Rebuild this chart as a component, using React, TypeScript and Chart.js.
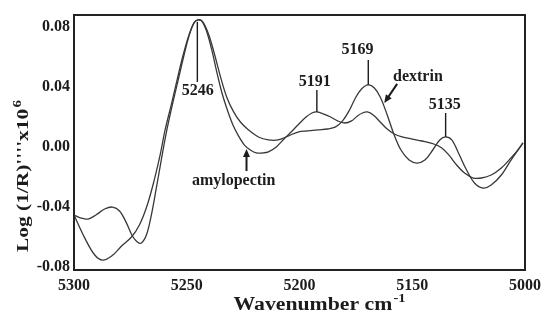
import React, { useEffect, useRef } from "react";
import { Chart, registerables } from "chart.js";

Chart.register(...registerables);

// ---- data ----
const amylopectinWavenumbers = [
  5300, 5296.9, 5293.8, 5290.3, 5286.4, 5282.9, 5279.8, 5276.7, 5274.1, 5271.9,
  5270.1, 5267.9, 5265.7, 5263.5, 5261.3, 5259.1, 5256.5, 5253.8, 5251.2, 5249.0,
  5246.8, 5245.1, 5243.3, 5241.1, 5238.9, 5236.7, 5234.5, 5232.3, 5229.7, 5227.0,
  5224.4, 5221.8, 5219.1, 5216.5, 5213.8, 5210.3, 5207.3, 5204.2, 5200.7, 5197.1,
  5194.5, 5192.3, 5189.2, 5186.2, 5183.1, 5180.0, 5176.9, 5174.3, 5172.1, 5169.9,
  5167.3, 5164.2, 5161.1, 5158.0, 5154.5, 5150.1, 5145.7, 5140.4, 5136.9, 5133.8,
  5130.3, 5126.8, 5122.9, 5119.3, 5115.0, 5110.5, 5106.2, 5103.1, 5100.9,
];
const amylopectinValues = [
  -0.0454, -0.0474, -0.0481, -0.0454, -0.0414, -0.0401, -0.0427, -0.0508, -0.0594, -0.0634,
  -0.0641, -0.0588, -0.0454, -0.0274, -0.0087, 0.0093, 0.0274, 0.0447, 0.0614, 0.0741,
  0.0828, 0.0848, 0.0841, 0.0768, 0.0648, 0.0501, 0.0367, 0.026, 0.0154, 0.0073,
  0.0013, -0.002, -0.004, -0.004, -0.0033, 0.0, 0.0047, 0.0093, 0.0147, 0.02,
  0.0227, 0.0234, 0.022, 0.02, 0.0174, 0.016, 0.0174, 0.0207, 0.0227, 0.0234,
  0.0214, 0.0167, 0.012, 0.0087, 0.0067, 0.0053, 0.004, 0.002, -0.0007, -0.0053,
  -0.012, -0.0174, -0.0207, -0.0207, -0.0187, -0.014, -0.0073, -0.002, 0.0027,
];

const dextrinWavenumbers = [
  5300, 5295.2, 5290.8, 5287.3, 5283.3, 5278.9, 5274.5, 5271.0, 5267.5, 5264.4,
  5261.8, 5259.6, 5256.9, 5254.3, 5251.6, 5249.0, 5246.8, 5245.1, 5242.9, 5240.2,
  5237.6, 5234.9, 5232.3, 5229.2, 5226.2, 5222.6, 5218.2, 5213.8, 5209.5, 5205.1,
  5200.7, 5196.3, 5191.9, 5187.5, 5184.0, 5180.9, 5177.8, 5175.2, 5172.5, 5169.5,
  5166.8, 5164.2, 5161.1, 5158.0, 5155.0, 5151.4, 5147.9, 5144.4, 5140.9, 5137.8,
  5135.2, 5132.5, 5129.5, 5125.9, 5122.4, 5118.5, 5115.0, 5110.5, 5106.2, 5103.1,
  5100.9,
];
const dextrinValues = [
  -0.0454, -0.0608, -0.0721, -0.0755, -0.0728, -0.0661, -0.0601, -0.0521, -0.0387, -0.022,
  -0.0053, 0.0114, 0.028, 0.0447, 0.0614, 0.0748, 0.0828, 0.0848, 0.0835, 0.0748,
  0.0614, 0.0461, 0.0334, 0.0234, 0.0167, 0.0114, 0.0067, 0.0047, 0.0047, 0.0073,
  0.01, 0.0107, 0.0114, 0.012, 0.0134, 0.0174, 0.0247, 0.0327, 0.0387, 0.0414,
  0.0394, 0.0334, 0.0214, 0.008, -0.002, -0.0087, -0.0107, -0.0087, -0.002, 0.0047,
  0.0067, 0.0047, -0.004, -0.0154, -0.024, -0.0274, -0.0254, -0.0187, -0.0087, -0.002,
  0.0027,
];

const xTickValues = [5300, 5250, 5200, 5150, 5100];
const xTickLabels = ["5300", "5250", "5200", "5150", "5000"];
const yTickValues = [-0.08, -0.04, 0, 0.04, 0.08];
const yTickLabels = ["-0.08", "-0.04", "0.00", "0.04", "0.08"];

const xTitle = "Wavenumber cm";
const xTitleSup = "-1";
const yTitle = "Log (1/R)''''x10";
const yTitleSup = "6";

// peak annotations: label, stem wavenumber, curve value at stem, stem end value, label anchor
const peakLabels = ["5246", "5191", "5169", "5135"];
const peakWavenumbers = [5245.3, 5192.3, 5169.5, 5135.2];
const peakStemStart = [0.0835, 0.0234, 0.0414, 0.0067];
const peakStemEnd = [0.0434, 0.0381, 0.0581, 0.0227];
const peakLabelWavenumbers = [5245.1, 5193.2, 5174.3, 5135.6];
const peakLabelValues = [0.0374, 0.0434, 0.0648, 0.028];

// arrow annotations
const arrowLabels = ["dextrin", "amylopectin"];
const arrowLabelWavenumbers = [5147.5, 5229.2];
const arrowLabelValues = [0.0467, -0.0227];
const arrowFrom = [
  [5156.7, 0.0421],
  [5223.5, -0.016],
];
const arrowTo = [
  [5162.4, 0.0294],
  [5223.5, -0.0013],
];

const FONT = "'Liberation Serif', 'Times New Roman', serif";
const INK = "#1c1c1c";

function toPoints(xs: number[], ys: number[]) {
  return xs.map((x, i) => ({ x, y: ys[i] }));
}

function drawSupText(
  ctx: CanvasRenderingContext2D,
  main: string,
  sup: string,
  size: number,
  target: number
) {
  ctx.font = `bold ${size}px ${FONT}`;
  const w1 = ctx.measureText(main).width;
  ctx.font = `bold ${Math.round(size * 0.68)}px ${FONT}`;
  const w2 = ctx.measureText(sup).width;
  const gap = 1;
  const total = w1 + gap + w2;
  const s = target / total;
  ctx.scale(s, 1);
  ctx.textAlign = "left";
  ctx.textBaseline = "alphabetic";
  ctx.font = `bold ${size}px ${FONT}`;
  ctx.fillText(main, -total / 2, 0);
  ctx.font = `bold ${Math.round(size * 0.68)}px ${FONT}`;
  ctx.fillText(sup, -total / 2 + w1 + gap, -size * 0.42);
}

const overlayPlugin = {
  id: "overlay",
  afterDraw(chart: any) {
    const { ctx, chartArea: a } = chart;
    const xs = chart.scales.x;
    const ys = chart.scales.y;
    ctx.save();
    // frame
    ctx.strokeStyle = "#222";
    ctx.lineWidth = 2;
    ctx.strokeRect(a.left, a.top, a.right - a.left, a.bottom - a.top);

    ctx.fillStyle = INK;
    ctx.strokeStyle = INK;

    // peak stems and labels
    ctx.lineWidth = 1.4;
    ctx.font = `bold 16px ${FONT}`;
    ctx.textAlign = "center";
    ctx.textBaseline = "middle";
    peakLabels.forEach((lab, i) => {
      const px = xs.getPixelForValue(peakWavenumbers[i]);
      ctx.beginPath();
      ctx.moveTo(px, ys.getPixelForValue(peakStemStart[i]));
      ctx.lineTo(px, ys.getPixelForValue(peakStemEnd[i]));
      ctx.stroke();
      ctx.fillText(
        lab,
        xs.getPixelForValue(peakLabelWavenumbers[i]),
        ys.getPixelForValue(peakLabelValues[i])
      );
    });

    // arrows and labels
    arrowLabels.forEach((lab, i) => {
      ctx.fillText(
        lab,
        xs.getPixelForValue(arrowLabelWavenumbers[i]),
        ys.getPixelForValue(arrowLabelValues[i])
      );
      const x0 = xs.getPixelForValue(arrowFrom[i][0]);
      const y0 = ys.getPixelForValue(arrowFrom[i][1]);
      const x1 = xs.getPixelForValue(arrowTo[i][0]);
      const y1 = ys.getPixelForValue(arrowTo[i][1]);
      const ang = Math.atan2(y1 - y0, x1 - x0);
      const hl = 8;
      const hw = 3.5;
      ctx.lineWidth = 2;
      ctx.beginPath();
      ctx.moveTo(x0, y0);
      ctx.lineTo(x1 - Math.cos(ang) * hl * 0.8, y1 - Math.sin(ang) * hl * 0.8);
      ctx.stroke();
      ctx.beginPath();
      ctx.moveTo(x1, y1);
      ctx.lineTo(
        x1 - Math.cos(ang) * hl + Math.sin(ang) * hw,
        y1 - Math.sin(ang) * hl - Math.cos(ang) * hw
      );
      ctx.lineTo(
        x1 - Math.cos(ang) * hl - Math.sin(ang) * hw,
        y1 - Math.sin(ang) * hl + Math.cos(ang) * hw
      );
      ctx.closePath();
      ctx.fill();
    });

    // axis titles
    ctx.save();
    ctx.translate((a.left + a.right) / 2 + 20, 310);
    drawSupText(ctx, xTitle, xTitleSup, 18, 172);
    ctx.restore();

    ctx.save();
    ctx.translate(28, 176);
    ctx.rotate(-Math.PI / 2);
    drawSupText(ctx, yTitle, yTitleSup, 17, 152);
    ctx.restore();

    ctx.restore();
  },
};

export default function App() {
  const canvasRef = useRef<HTMLCanvasElement | null>(null);

  useEffect(() => {
    const canvas = canvasRef.current;
    if (!canvas) return;
    const tickFont = { family: FONT, size: 16, weight: "bold" as const };
    const chart = new Chart(canvas, {
      type: "line",
      data: {
        datasets: [
          {
            label: "dextrin",
            data: toPoints(dextrinWavenumbers, dextrinValues),
            borderColor: "#383838",
            borderWidth: 1.3,
            pointRadius: 0,
            tension: 0.35,
            fill: false,
          },
          {
            label: "amylopectin",
            data: toPoints(amylopectinWavenumbers, amylopectinValues),
            borderColor: "#383838",
            borderWidth: 1.3,
            pointRadius: 0,
            tension: 0.35,
            fill: false,
          },
        ],
      },
      options: {
        animation: false,
        responsive: true,
        maintainAspectRatio: false,
        devicePixelRatio: 1,
        layout: { padding: { top: 15, right: 18, bottom: 0, left: 0 } },
        plugins: {
          legend: { display: false },
          tooltip: { enabled: false },
        },
        scales: {
          x: {
            type: "linear",
            reverse: true,
            min: 5100,
            max: 5300,
            grid: { display: false, drawTicks: false },
            border: { display: false },
            afterBuildTicks: (scale: any) => {
              scale.ticks = xTickValues.map((v) => ({ value: v }));
            },
            afterFit: (scale: any) => {
              scale.height = 48;
            },
            ticks: {
              autoSkip: false,
              maxRotation: 0,
              padding: 6,
              color: INK,
              font: tickFont,
              callback: (v: any) => {
                const i = xTickValues.indexOf(Number(v));
                return i >= 0 ? xTickLabels[i] : "";
              },
            },
          },
          y: {
            type: "linear",
            min: -0.0821,
            max: 0.0881,
            grid: { display: false, drawTicks: false },
            border: { display: false },
            afterBuildTicks: (scale: any) => {
              scale.ticks = yTickValues.map((v) => ({ value: v }));
            },
            afterFit: (scale: any) => {
              scale.width = 74;
            },
            ticks: {
              padding: 4,
              color: INK,
              font: tickFont,
              callback: (v: any) => {
                const i = yTickValues.findIndex((t) => Math.abs(t - Number(v)) < 1e-9);
                return i >= 0 ? yTickLabels[i] : "";
              },
            },
          },
        },
      },
      plugins: [overlayPlugin],
    });
    return () => chart.destroy();
  }, []);

  return (
    <div
      style={{
        position: "fixed",
        left: 0,
        top: 0,
        width: 547,
        height: 318,
        background: "#ffffff",
      }}
    >
      <canvas ref={canvasRef} />
    </div>
  );
}
